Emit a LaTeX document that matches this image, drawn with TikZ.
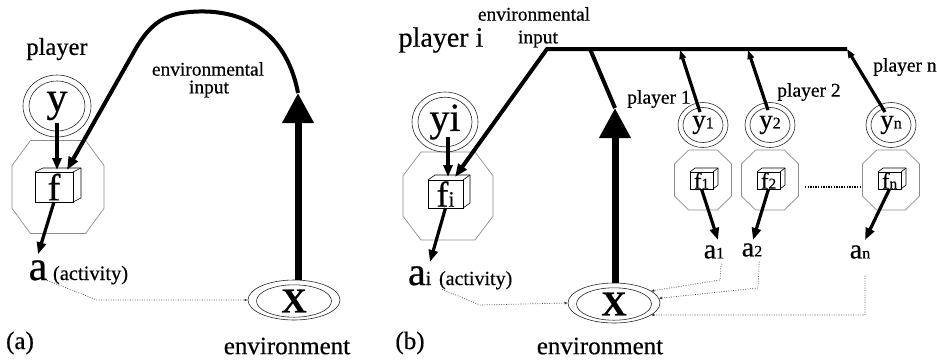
\documentclass[tikz,border=0pt]{standalone}
\usepackage{fontspec}
\setmainfont{Liberation Serif}[FakeBold=0.5]
\usetikzlibrary{arrows.meta,shapes.geometric,calc}
\newcommand\fs[1]{\fontsize{#1}{#1}\selectfont}
% octagon: cx, cy, W, H, fx, fy
\newcommand\octag[6]{%
  \draw[octline] ({#1-#5*#3},{#2-0.5*#4}) -- ({#1+#5*#3},{#2-0.5*#4}) -- ({#1+0.5*#3},{#2-#6*#4}) -- ({#1+0.5*#3},{#2+#6*#4}) -- ({#1+#5*#3},{#2+0.5*#4}) -- ({#1-#5*#3},{#2+0.5*#4}) -- ({#1-0.5*#3},{#2+#6*#4}) -- ({#1-0.5*#3},{#2-#6*#4}) -- cycle;}
% cube: name, x, y, w, h, dx, dy, label
\newcommand\cubebox[8]{%
  \node[cubeface, minimum width=#4pt, minimum height=#5pt, anchor=north west] (#1) at (#2,#3) {#8};
  \draw[cubeedge] (#1.north west) -- ++(#6,-#7) -- ++(#4,0) -- ++(0,#5) -- (#1.south east);
  \draw[cubeedge] (#1.north east) -- ++(#6,-#7);}
\begin{document}
\begin{tikzpicture}[x=1pt,y=-1pt,
  txt/.style={inner sep=0pt,outer sep=0pt},
  ring/.style={draw=black!85,line width=0.6pt,ellipse,inner sep=0pt,outer sep=0pt},
  octline/.style={draw=black!45,line width=0.7pt},
  cubeface/.style={draw=black,line width=0.6pt,fill=white,inner sep=0pt,outer sep=0pt},
  cubeedge/.style={draw=black,line width=0.6pt,line join=round},
  arr/.style={line width=3.2pt,-{Triangle[length=12pt,width=9pt]}},
  parr/.style={line width=3.2pt,-{Triangle[length=9pt,width=6.5pt]}},
  bigarr/.style={line width=7pt,-{Triangle[length=30pt,width=30pt]}},
  feed/.style={line width=4pt},
  feedarr/.style={line width=4pt,-{Triangle[length=13pt,width=10pt]}},
  dots/.style={line width=0.7pt,black!75,dash pattern=on 0.8pt off 1.6pt,-{Latex[length=3.5pt,width=3pt]}},
  sepdots/.style={line width=1.6pt,dash pattern=on 1.4pt off 1.2pt}]
\useasboundingbox (0,0) rectangle (937,360);

% ================= (a)
\octag{58}{187}{92}{93}{0.3}{0.23}
\node[ring,minimum width=68pt,minimum height=62pt] (yAo) at (57,106) {};
\node[ring,minimum width=56pt,minimum height=50pt] (yA) at (57,106) {\fs{42}y};
\cubebox{fA}{35}{172}{38}{30}{8}{4}{\fs{38}f}
\node[txt] (plA) at (57,49) {\fs{24.5}player};
\node[txt,anchor=base] (aA) at (38,280) {\fs{42}a};
\node[txt,anchor=base west] (actA) at (53,280) {\fs{20.5}(activity)};
\node[ring,minimum width=92pt,minimum height=40pt] (envA) at (294,300) {};
\node[ring,minimum width=75pt,minimum height=32pt] (envAi) at (294,301) {\fs{35}\bfseries X};
\node[txt] (envlA) at (287,346) {\fs{25}environment};
\node[txt] (labA) at (20,343) {\fs{25}(a)};
\node[txt] (eiA1) at (208,69) {\fs{19.4}environmental};
\node[txt] (eiA2) at (209,89) {\fs{19.4}input};

\coordinate (tipA) at (298,93);
\draw[bigarr] ([xshift=4pt]envA.north) -- (tipA);
\draw[feedarr] (tipA) .. controls (285,25) and (235,8) .. (190,12) .. controls (168,14) and (152,20) .. (135,50) -- ([shift={(-6,-2)}]fA.north east);
\draw[arr] ($(yA.center)+(0,17)$) -- ([shift={(3,-2)}]fA.north);
\draw[arr] (fA.south) -- ([shift={(0,-6)}]aA.north);
\draw[dots] (aA.south east) -- (97,300) -- (envA.west);

% ================= (b)
\octag{448}{196}{90}{88}{0.3}{0.23}
\node[ring,minimum width=66pt,minimum height=60pt] (yBo) at (445,122) {};
\node[ring,minimum width=54pt,minimum height=48pt] (yB) at (445,122) {\fs{40}yi};
\cubebox{fB}{428}{180}{35}{28}{7}{5}{\fs{36}f\fs{22}i}
\node[txt] (plB) at (441,40) {\fs{28}player i};
\node[txt,anchor=base west] (aB) at (408,285) {\fs{40}a\fs{20}i};
\node[txt,anchor=base west] (actB) at (439,285) {\fs{20}(activity)};
\node[ring,minimum width=92pt,minimum height=40pt] (envB) at (614,303) {};
\node[ring,minimum width=75pt,minimum height=32pt] (envBi) at (614,304) {\fs{35}\bfseries X};
\node[txt] (envlB) at (600,346) {\fs{25}environment};
\node[txt] (labB) at (410,343) {\fs{25}(b)};
\node[txt] (eiB1) at (534,14) {\fs{19.4}environmental};
\node[txt] (eiB2) at (538,39) {\fs{19.4}input};

\foreach \x/\k in {703/1,770/2,891/n}{
  \octag{\x}{180}{57}{60}{0.25}{0.27}
  \node[ring,minimum width=50pt,minimum height=45pt] (yo\k) at (\x,125) {};
  \node[ring,minimum width=40pt,minimum height=35pt] (y\k) at (\x,125) {\fs{27}y\fs{16}\k};
  \cubebox{f\k}{\x-13}{172}{23}{17}{5}{4}{\fs{23}f\fs{15}\k}
}
\node[txt] (a1) at (714,252) {\fs{28}a\fs{16}1};
\node[txt] (a2) at (752,250) {\fs{28}a\fs{16}2};
\node[txt] (an) at (860,252) {\fs{28}a\fs{16}n};
\node[txt] (pl1) at (659,99) {\fs{19.5}player 1};
\node[txt] (pl2) at (809,92) {\fs{19.5}player 2};
\node[txt] (pln) at (905,67) {\fs{19.5}player n};

\coordinate (barL) at (547,49);
\coordinate (barM) at (590,49);
\coordinate (bar1) at (680,50);
\coordinate (bar2) at (748,50);
\coordinate (barR) at (847,49);
\coordinate (tipB) at (615,108);
\coordinate (aBt) at (430,262);
\coordinate (a1t) at (718,240);
\coordinate (a2t) at (753,240);
\coordinate (ant) at (865,240);

\draw[feedarr] (barR) -- (barL) -- ([shift={(-8,-3)}]fB.north east);
\draw[feed] (barM) -- (tipB);
\draw[bigarr] ([xshift=1pt]envB.north) -- (tipB);
\draw[arr] ($(yB.center)+(3,15)$) -- ([shift={(20,-3)}]fB.north west);
\draw[arr] (fB.south) -- (aBt);
\draw[dots] ([xshift=3pt]actB.south west) -- (480,305) -- (envB.west);

\draw[parr] ($(y1.center)+(-3,-13)$) -- (bar1);
\draw[parr] ($(y2.center)+(-2,-15)$) -- (bar2);
\draw[parr] ($(yn.center)+(-6,-13)$) -- (barR);
\draw[arr] (f1.south) -- (a1t);
\draw[arr] (f2.south) -- (a2t);
\draw[arr] (fn.south) -- (ant);
\draw[sepdots] (805,187) -- (861,187);
\draw[dots] ([shift={(-3,5)}]a1.south east) -- (720,280) -- (envB.18);
\draw[dots] ([shift={(-3,5)}]a2.south east) -- (758,288) -- (envB.6);
\draw[dots] ([shift={(5,17)}]an.south) -- (865,315) -- (envB.-18);
\end{tikzpicture}
\end{document}
